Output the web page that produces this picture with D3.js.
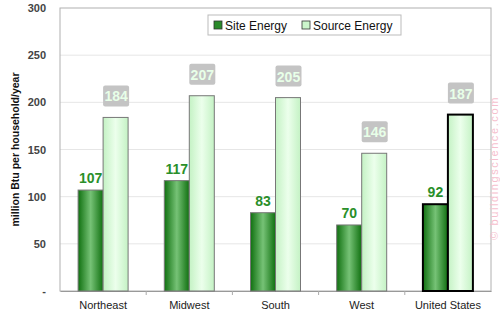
<!DOCTYPE html>
<html>
<head>
<meta charset="utf-8">
<script src="https://cdn.jsdelivr.net/npm/d3@7"></script>
<style>
  body { margin: 0; background: #fff; }
  svg { font-family: "Liberation Sans", Arial, sans-serif; }
</style>
</head>
<body>
<svg id="chart" width="500" height="317"></svg>
<script>
var regions = ["Northeast", "Midwest", "South", "West", "United States"];
var siteEnergy = [107, 117, 83, 70, 92];
var sourceEnergy = [184, 207, 205, 146, 187];
var yTicks = [0, 50, 100, 150, 200, 250, 300];
var seriesNames = ["Site Energy", "Source Energy"];

var svg = d3.select("#chart");
// note: "top" is taken by window.top, so plot edges get their own names
var plotL = 60, plotR = 491, plotT = 8, plotB = 291;

var x = d3.scaleBand().domain(regions).range([plotL, plotR]);
var y = d3.scaleLinear().domain([0, 300]).range([plotB, plotT]);
var barW = 25;

// gradients
var defs = svg.append("defs");
var g1 = defs.append("linearGradient").attr("id", "siteGrad");
g1.append("stop").attr("offset", "0%").attr("stop-color", "#107010");
g1.append("stop").attr("offset", "50%").attr("stop-color", "#76c276");
g1.append("stop").attr("offset", "100%").attr("stop-color", "#107010");
var g2 = defs.append("linearGradient").attr("id", "srcGrad");
g2.append("stop").attr("offset", "0%").attr("stop-color", "#c4f2c4");
g2.append("stop").attr("offset", "50%").attr("stop-color", "#ecffec");
g2.append("stop").attr("offset", "100%").attr("stop-color", "#c4f2c4");

// grid
svg.append("g").selectAll("line")
  .data(yTicks.filter(function(d){ return d > 0 && d < 300; }))
  .enter().append("line")
  .attr("x1", plotL).attr("x2", plotR)
  .attr("y1", function(d){ return y(d); })
  .attr("y2", function(d){ return y(d); })
  .attr("stroke", "#e6e6e6").attr("stroke-width", 1);

// plot frame
svg.append("rect")
  .attr("x", plotL).attr("y", plotT)
  .attr("width", plotR - plotL).attr("height", plotB - plotT)
  .attr("fill", "none").attr("stroke", "#b0b0b0");

// y axis
var yAxis = d3.axisLeft(y).tickValues(yTicks)
  .tickFormat(function(d){ return d === 0 ? "-" : d; })
  .tickSize(0).tickPadding(14);
var ya = svg.append("g").attr("transform", "translate(" + plotL + ",0)").call(yAxis);
ya.select(".domain").remove();
ya.selectAll("text").attr("font-size", 11).attr("font-weight", "bold")
  .attr("fill", "#444").attr("font-family", "Liberation Sans, Arial, sans-serif");

// x axis
var xa = svg.append("g").attr("transform", "translate(0," + plotB + ")")
  .call(d3.axisBottom(x).tickSize(0).tickPadding(10));
xa.select(".domain").attr("stroke", "#999");
xa.selectAll("text").attr("font-size", 11).attr("fill", "#222")
  .attr("font-family", "Liberation Sans, Arial, sans-serif");
svg.append("g").selectAll("line")
  .data(regions.slice(1))
  .enter().append("line")
  .attr("x1", function(d){ return x(d); })
  .attr("x2", function(d){ return x(d); })
  .attr("y1", plotB).attr("y2", plotB + 4)
  .attr("stroke", "#aaa");

// y title
svg.append("text")
  .attr("transform", "translate(19," + ((plotT + plotB) / 2) + ") rotate(-90)")
  .attr("text-anchor", "middle")
  .attr("font-size", 10.5).attr("font-weight", "bold").attr("fill", "#111")
  .text("million Btu per household/year");

// bars
var groups = svg.append("g").selectAll("g")
  .data(regions).enter().append("g");

groups.append("rect")
  .attr("x", function(d){ return x(d) + x.bandwidth() / 2 - barW; })
  .attr("y", function(d, i){ return y(siteEnergy[i]); })
  .attr("width", barW)
  .attr("height", function(d, i){ return y(0) - y(siteEnergy[i]); })
  .attr("fill", "url(#siteGrad)")
  .attr("stroke", function(d, i){ return i === 4 ? "#000" : "#777"; })
  .attr("stroke-width", function(d, i){ return i === 4 ? 2 : 1; });

groups.append("rect")
  .attr("x", function(d){ return x(d) + x.bandwidth() / 2; })
  .attr("y", function(d, i){ return y(sourceEnergy[i]); })
  .attr("width", barW)
  .attr("height", function(d, i){ return y(0) - y(sourceEnergy[i]); })
  .attr("fill", "url(#srcGrad)")
  .attr("stroke", function(d, i){ return i === 4 ? "#000" : "#777"; })
  .attr("stroke-width", function(d, i){ return i === 4 ? 2 : 1; });

// site labels
groups.append("text")
  .attr("x", function(d){ return x(d) + x.bandwidth() / 2 - barW / 2; })
  .attr("y", function(d, i){ return y(siteEnergy[i]) - 7; })
  .attr("text-anchor", "middle")
  .attr("font-size", 14).attr("font-weight", "bold").attr("fill", "#2a8f2a")
  .text(function(d, i){ return siteEnergy[i]; });

// source labels with grey boxes
groups.append("rect")
  .attr("x", function(d){ return x(d) + x.bandwidth() / 2; })
  .attr("y", function(d, i){ return y(sourceEnergy[i]) - 32; })
  .attr("width", 26).attr("height", 21)
  .attr("rx", 2)
  .attr("fill", "#c4c4c4");
groups.append("text")
  .attr("x", function(d){ return x(d) + x.bandwidth() / 2 + 13; })
  .attr("y", function(d, i){ return y(sourceEnergy[i]) - 16; })
  .attr("text-anchor", "middle")
  .attr("font-size", 14).attr("font-weight", "bold").attr("fill", "#e8ffe8")
  .text(function(d, i){ return sourceEnergy[i]; });

// legend
var lg = svg.append("g");
lg.append("rect").attr("x", 208).attr("y", 15).attr("width", 193).attr("height", 20)
  .attr("fill", "#fff").attr("stroke", "#bbb");
var lx = [214, 302];
lg.selectAll("rect.sw").data(seriesNames).enter().append("rect")
  .attr("class", "sw")
  .attr("x", function(d, i){ return lx[i]; }).attr("y", 21)
  .attr("width", 8).attr("height", 8)
  .attr("fill", function(d, i){ return i === 0 ? "#2a8a2a" : "#ccf5cc"; })
  .attr("stroke", "#333").attr("stroke-width", 0.8);
lg.selectAll("text").data(seriesNames).enter().append("text")
  .attr("x", function(d, i){ return lx[i] + 11; }).attr("y", 30)
  .attr("font-size", 12).attr("fill", "#111")
  .text(function(d){ return d; });

// watermark, reads bottom to top just right of the frame
svg.append("text")
  .attr("transform", "translate(498,168) rotate(-90)")
  .attr("text-anchor", "middle")
  .attr("font-size", 11).attr("letter-spacing", 1.6).attr("fill", "#f6bfce")
  .text("© buildingscience.com");
</script>
</body>
</html>
